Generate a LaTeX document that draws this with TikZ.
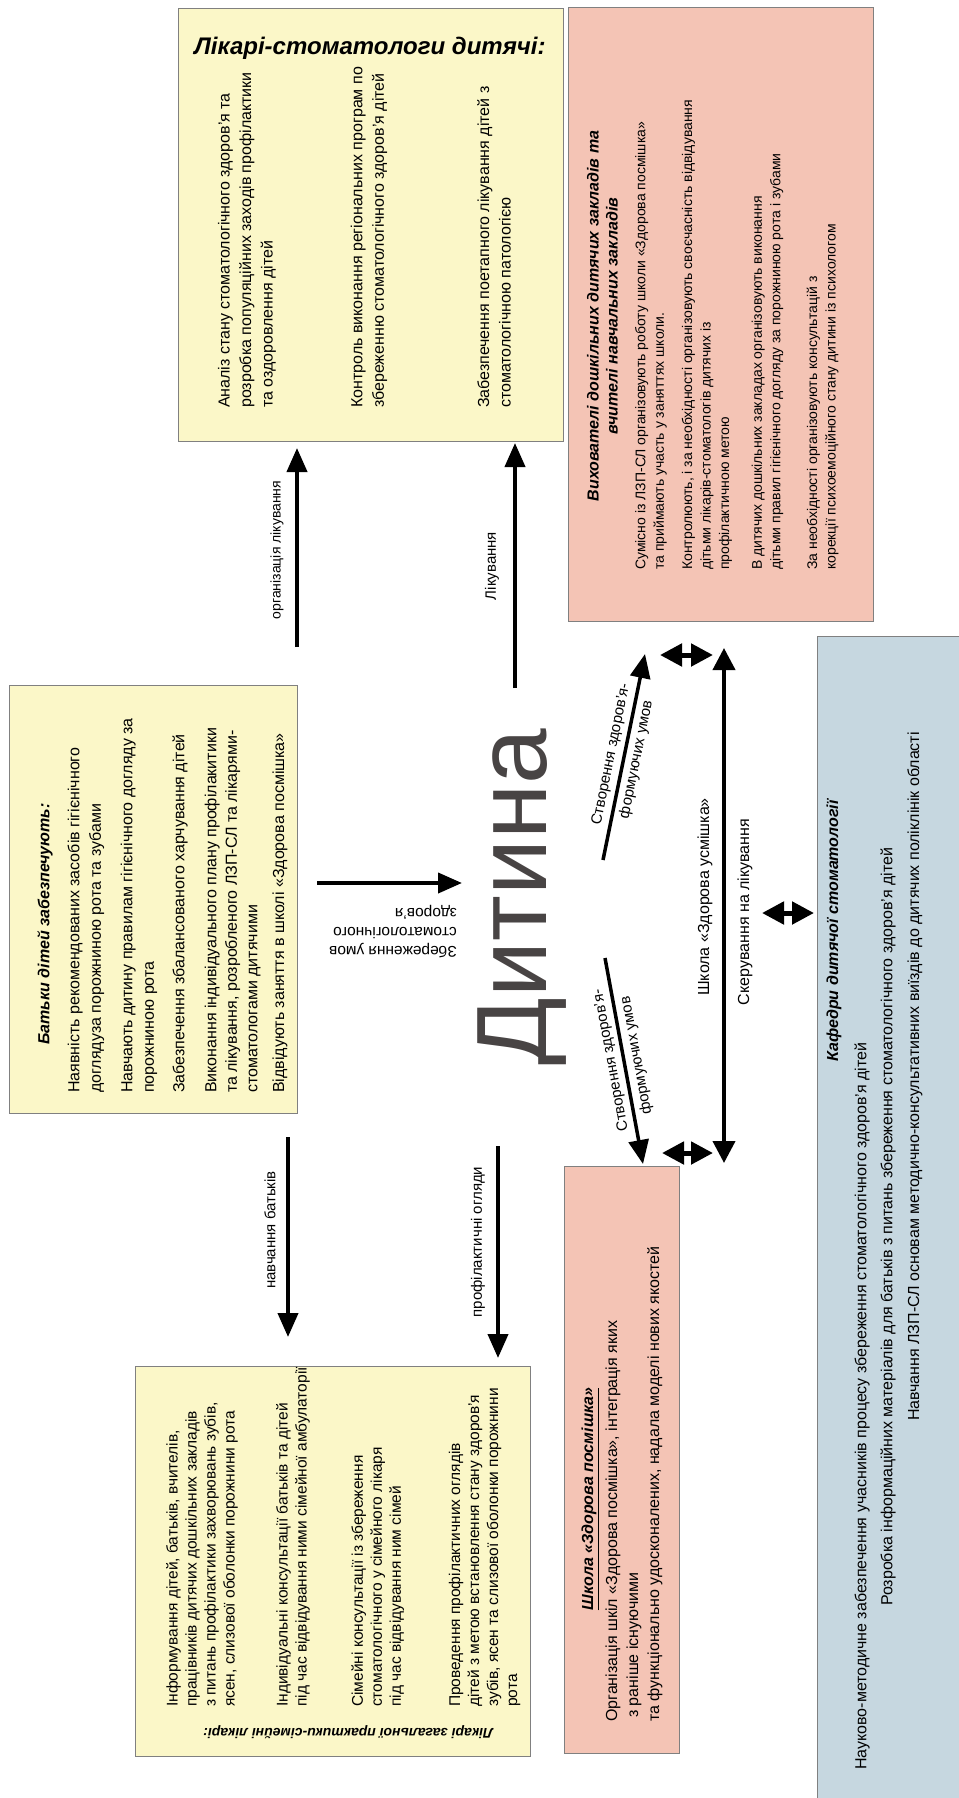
\documentclass[tikz,border=0pt]{standalone}
\usepackage{fontspec}
\setmainfont{Liberation Sans}
\usetikzlibrary{arrows.meta}
\definecolor{boxyellow}{RGB}{251,247,200}
\definecolor{boxpink}{RGB}{244,196,181}
\definecolor{boxblue}{RGB}{198,215,224}
\definecolor{boxline}{RGB}{128,128,128}
\definecolor{childgray}{RGB}{72,68,68}
\newcommand{\setsz}[2]{\fontsize{#1}{#2}\selectfont}
\tikzset{
  panel/.style     = {draw=boxline,line width=1pt,inner sep=0pt},
  yellowbox/.style = {panel,fill=boxyellow},
  pinkbox/.style   = {panel,fill=boxpink},
  bluebox/.style   = {panel,fill=boxblue},
  uptext/.style    = {rotate=90,inner sep=0pt,align=left},
  headtext/.style  = {inner sep=0pt,font=\bfseries\itshape\setsz{16}{20}},
  arrlabel/.style  = {rotate=90,inner sep=0pt,font=\setsz{15}{19}},
  bigarr/.style    = {-{Triangle[length=24pt,width=20pt]},line width=4pt},
  dblarr/.style    = {{Triangle[length=22pt,width=22pt]}-{Triangle[length=22pt,width=22pt]},line width=5pt}
}

\begin{document}
\begin{tikzpicture}[x=1pt,y=-1pt]
  \useasboundingbox (0,0) rectangle (958,1798);
  % panels
  \node[yellowbox,minimum width=385,minimum height=432] (likari) at (370.5,225) {};
  \node[pinkbox,minimum width=305,minimum height=613]   (vykhov) at (720.5,314.5) {};
  \node[yellowbox,minimum width=288,minimum height=428] (batky)  at (153,899) {};
  \node[yellowbox,minimum width=395,minimum height=390] (simeini) at (332.5,1561) {};
  \node[pinkbox,minimum width=115,minimum height=587]   (shkola) at (621.5,1459.5) {};
  \node[bluebox,minimum width=145,minimum height=1166]  (kafedra) at (889.5,1219) {};

  % Лікарі-стоматологи дитячі
  \node[headtext,font=\bfseries\itshape\setsz{24}{28}] (likarititle) at (370,48) {Лікарі-стоматологи дитячі:};
  \node[uptext,anchor=west,font=\setsz{16}{21.5}] (likp1) at (247,408) {Аналіз стану стоматологічного здоров’я та\\розробка популяційних заходів профілактики\\та оздоровлення дітей};
  \node[uptext,anchor=west,font=\setsz{16}{21.5}] (likp2) at (369,408) {Контроль виконання регіональних програм по\\збереженню стоматологічного здоров’я дітей};
  \node[uptext,anchor=west,font=\setsz{16}{21.5}] (likp3) at (494,408) {Забезпечення поетапного лікування дітей з\\стоматологічною патологією};

  % Вихователі
  \node[headtext,rotate=90,align=center,font=\bfseries\itshape\setsz{16}{19}] (vykhtitle) at (602.5,316) {Вихователі дошкільних дитячих закладів та\\вчителі навчальних закладів};
  \node[uptext,anchor=west,font=\setsz{14}{18.5}] (vykhp1) at (651,570) {Сумісно із ЛЗП-СЛ організовують роботу школи «Здорова посмішка»\\та приймають участь у заняттях школи.};
  \node[uptext,anchor=west,font=\setsz{14}{18.5}] (vykhp2) at (707,570) {Контролюють, і за необхідності організовують своєчасність відвідування\\дітьми лікарів-стоматологів дитячих із\\профілактичною метою};
  \node[uptext,anchor=west,font=\setsz{14}{18.5}] (vykhp3) at (767.5,570) {В дитячих дошкільних закладах організовують виконання\\дітьми правил гігієнічного догляду за порожниною рота і зубами};
  \node[uptext,anchor=west,font=\setsz{14}{18.5}] (vykhp4) at (822.5,570) {За необхідності організовують консультацій з\\корекції психоемоційного стану дитини із психологом};

  % Батьки
  \node[headtext,rotate=90] (batkytitle) at (45,924) {Батьки дітей забезпечують:};
  \node[uptext,anchor=west,font=\setsz{16}{21.5}] (batp1) at (86,1093) {Наявність рекомендованих засобів гігієнічного\\доглядуза порожниною рота та зубами};
  \node[uptext,anchor=west,font=\setsz{16}{21.5}] (batp2) at (139,1093) {Навчають дитину правилам гігієнічного догляду за\\порожниною рота};
  \node[uptext,anchor=west,font=\setsz{16}{21.5}] (batp3) at (180,1093) {Забезпечення збалансованого харчування дітей};
  \node[uptext,anchor=west,font=\setsz{16}{20.5}] (batp4) at (232.7,1093) {Виконання індивідуального плану профілакитики\\та лікування, розробленого ЛЗП-СЛ та лікарями-\\стоматологами дитячими};
  \node[uptext,anchor=west,font=\setsz{16}{21.5}] (batp5) at (280,1093) {Відвідують заняття в школі «Здорова посмішка»};

  % Лікарі загальної практики
  \node[headtext,rotate=180,font=\bfseries\itshape\setsz{14}{18}] (simtitle) at (348,1732) {Лікарі загальної практики-сімейні лікарі:};
  \node[uptext,anchor=west,font=\setsz{15.5}{19}] (simp1) at (202,1707) {Інформування дітей, батьків, вчителів,\\працівників дитячих дошкільних закладів\\з питань профілактики захворювань зубів,\\ясен, слизової оболонки порожнини рота};
  \node[uptext,anchor=west,font=\setsz{15.5}{19}] (simp2) at (293,1707) {Індивідуальні консультації батьків та дітей\\під час відвідування ними сімейної амбулаторії};
  \node[uptext,anchor=west,font=\setsz{15.5}{19}] (simp3) at (377.7,1707) {Сімейні консультації із збереження\\стоматологічного у сімейного лікаря\\під час відвідування ним сімей};
  \node[uptext,anchor=west,font=\setsz{15.5}{19}] (simp4) at (484.5,1707) {Проведення профілактичних оглядів\\дітей з метою встановлення стану здоров’я\\зубів, ясен та слизової оболонки порожнини\\рота};

  % Школа
  \node[headtext,rotate=90] (shktitle) at (590,1499) {\underline{Школа «Здорова посмішка»}};
  \node[uptext,anchor=west,font=\setsz{16}{21}] (shkp1) at (634,1722) {Організація шкіл «Здорова посмішка», інтеграція яких\\\hspace*{4pt}з раніше існуючими\\та функціонально удосконалених, надала моделі нових якостей};

  % Кафедри
  \node[headtext,rotate=90] (kaftitle) at (834,931) {Кафедри дитячої стоматології};
  \node[uptext,anchor=west,font=\setsz{16}{20}] (kafp1) at (862,1770) {Науково-методичне забезпечення учасників процесу збереження стоматологічного здоров’я дітей};
  \node[uptext,anchor=west,font=\setsz{16}{20}] (kafp2) at (888,1606) {Розробка інформаційних матеріалів для батьків з питань збереження стоматологічного здоров’я дітей};
  \node[uptext,anchor=west,font=\setsz{16}{20}] (kafp3) at (915,1421) {Навчання ЛЗП-СЛ основам методично-консультативних виїздів до дитячих поліклінік області};

  % Дитина
  \node[rotate=90,inner sep=0pt,text=childgray,font=\setsz{100}{110}] (dytyna) at (522,897) {Дитина};

  % arrow ends
  \coordinate (orgtail)  at (297,647);  \coordinate (orghead)  at (297,448);
  \coordinate (likstart) at (515,688);  \coordinate (likend)   at (515,443);
  \coordinate (zbertail) at (317,883);  \coordinate (zberhead) at (462,883);
  \coordinate (navtail)  at (288,1137); \coordinate (navhead)  at (288,1337);
  \coordinate (proftail) at (498,1146); \coordinate (profhead) at (498,1358);
  \coordinate (stvAtail) at (603,860);  \coordinate (stvAhead) at (645,654);
  \coordinate (stvBtail) at (605,958);  \coordinate (stvBhead) at (643,1164);
  \coordinate (shkA)     at (724,648);  \coordinate (shkB)     at (724,1163);
  \coordinate (dblAl)    at (660,655);  \coordinate (dblAr)    at (713,655);
  \coordinate (dblBl)    at (662,1153); \coordinate (dblBr)    at (713,1153);
  \coordinate (dblCl)    at (762,913);  \coordinate (dblCr)    at (814,913);

  \draw[bigarr] (orgtail) -- (orghead);
  \draw[bigarr] (likstart) -- (likend);
  \draw[bigarr] (zbertail) -- (zberhead);
  \draw[bigarr] (navtail) -- (navhead);
  \draw[bigarr] (proftail) -- (profhead);
  \draw[bigarr,line width=3.5pt] (stvAtail) -- (stvAhead);
  \draw[bigarr,line width=3.5pt] (stvBtail) -- (stvBhead);
  \draw[dblarr,line width=4pt] (shkA) -- (shkB);
  \draw[dblarr] (dblAl) -- (dblAr);
  \draw[dblarr] (dblBl) -- (dblBr);
  \draw[dblarr] (dblCl) -- (dblCr);

  % arrow labels
  \node[arrlabel,font=\setsz{14}{18}] (orglbl) at (277,550) {організація лікування};
  \node[arrlabel] (liklbl) at (492,566) {Лікування};
  \node[rotate=180,inner sep=0pt,align=left,font=\setsz{15.5}{19}] (zberlbl) at (393,932) {Збереження умов\\стоматологічного\\здоров’я};
  \node[arrlabel] (navlbl) at (270,1230) {навчання батьків};
  \node[arrlabel] (proflbl) at (478,1242) {профілактичні огляди};
  \node[rotate=78.5,inner sep=0pt,align=center,font=\setsz{15}{26}] (stvAlbl) at (624,757) {Створення здоров’я-\\формуючих умов};
  \node[rotate=100.5,inner sep=0pt,align=center,font=\setsz{15}{26}] (stvBlbl) at (624,1058) {Створення здоров’я-\\формуючих умов};
  \node[arrlabel,font=\setsz{16}{20}] (shklbl) at (705,897) {Школа «Здорова усмішка»};
  \node[arrlabel,font=\setsz{16}{20}] (skerlbl) at (745,912) {Скерування на лікування};
\end{tikzpicture}
\end{document}
